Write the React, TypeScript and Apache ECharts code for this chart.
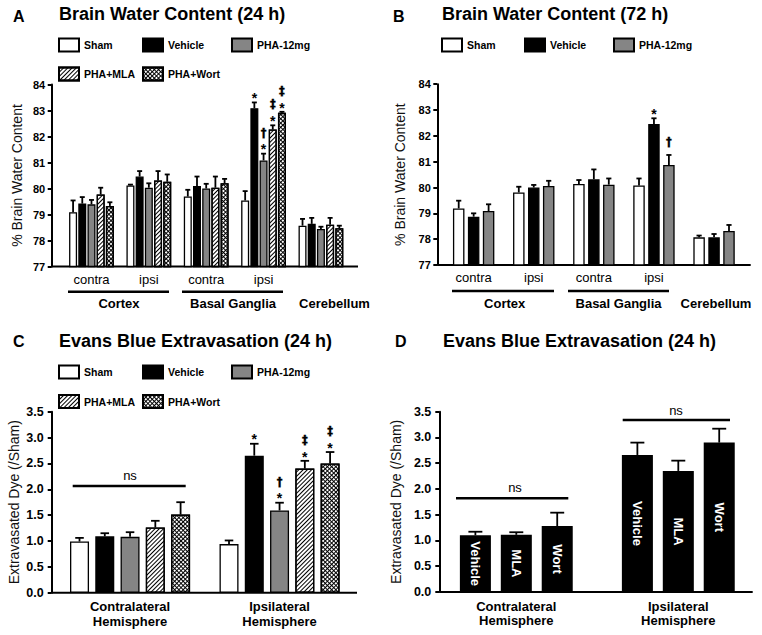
import React, { useEffect, useRef } from 'react';
import * as echarts from 'echarts';

const FONT = "'Liberation Sans', Arial, sans-serif";
const MARK_FONT = "'DejaVu Sans', 'Liberation Sans', sans-serif";

// ---------- Panel A: Brain Water Content (24 h) ----------
const aCategories = ['Cortex contra', 'Cortex ipsi', 'BG contra', 'BG ipsi', 'Cerebellum'];
const aTickLabels = ['contra', 'ipsi', 'contra', 'ipsi', ''];
const aSeriesNames = ['Sham', 'Vehicle', 'PHA-12mg', 'PHA+MLA', 'PHA+Wort'];
const aSham = [79.09, 80.12, 79.69, 79.54, 78.57];
const aShamErr = [79.54, 80.15, 79.95, 79.9, 78.83];
const aVehicle = [79.42, 80.46, 80.1, 83.09, 78.64];
const aVehicleErr = [79.67, 80.67, 80.46, 83.31, 78.87];
const aPHA = [79.39, 80.03, 80.0, 81.08, 78.44];
const aPHAErr = [79.56, 80.2, 80.18, 81.34, 78.53];
const aMLA = [79.77, 80.31, 80.03, 82.27, 78.61];
const aMLAErr = [80.03, 80.67, 80.46, 82.43, 78.87];
const aWort = [79.33, 80.26, 80.2, 82.91, 78.47];
const aWortErr = [79.47, 80.54, 80.37, 82.95, 78.57];
const aMarks = [
  ['', '', '', '', ''],
  ['', '', '', '*', ''],
  ['', '', '', '*†', ''],
  ['', '', '', '*‡', ''],
  ['', '', '', '*‡', ''],
];

// ---------- Panel B: Brain Water Content (72 h) ----------
const bSeriesNames = ['Sham', 'Vehicle', 'PHA-12mg'];
const bSham = [79.19, 79.81, 80.14, 80.08, 78.07];
const bShamErr = [79.49, 80.03, 80.29, 80.35, 78.14];
const bVehicle = [78.87, 80.0, 80.32, 82.46, 78.07];
const bVehicleErr = [79.0, 80.1, 80.7, 82.68, 78.2];
const bPHA = [79.09, 80.06, 80.11, 80.87, 78.32];
const bPHAErr = [79.35, 80.26, 80.35, 81.26, 78.55];
const bMarks = [
  ['', '', '', '', ''],
  ['', '', '', '*', ''],
  ['', '', '', '†', ''],
];

// ---------- Panel C: Evans Blue Extravasation (24 h) ----------
const cCategories = ['Contralateral\nHemisphere', 'Ipsilateral\nHemisphere'];
const cSham = [0.99, 0.94];
const cShamErr = [1.06, 1.01];
const cVehicle = [1.09, 2.65];
const cVehicleErr = [1.15, 2.88];
const cPHA = [1.08, 1.59];
const cPHAErr = [1.17, 1.74];
const cMLA = [1.26, 2.4];
const cMLAErr = [1.39, 2.55];
const cWort = [1.51, 2.5];
const cWortErr = [1.75, 2.72];
const cMarks = [
  ['', ''],
  ['', '*'],
  ['', '*†'],
  ['', '*‡'],
  ['', '*‡'],
];

// ---------- Panel D: Evans Blue Extravasation (24 h) ----------
const dSeriesNames = ['Vehicle', 'MLA', 'Wort'];
const dVehicle = [1.1, 2.66];
const dVehicleErr = [1.17, 2.9];
const dMLA = [1.11, 2.35];
const dMLAErr = [1.16, 2.55];
const dWort = [1.28, 2.9];
const dWortErr = [1.54, 3.17];
const dMarks = [
  ['', ''],
  ['', ''],
  ['', ''],
];

// ---------- styles ----------
const hatch = {
  symbol: 'rect',
  symbolSize: 1,
  color: '#000',
  backgroundColor: '#fff',
  dashArrayX: [1, 0],
  dashArrayY: [1, 2],
  rotation: -Math.PI / 4,
};
const cross = {
  symbol: 'rect',
  symbolSize: 1,
  color: '#000',
  backgroundColor: '#fff',
  dashArrayX: [[3, 0], [1, 2], [1, 2]],
  dashArrayY: [1, 0],
  rotation: Math.PI / 4,
};

function styleFor(name: string, panelD = false): any {
  const base = { borderColor: '#000', borderWidth: 1.3 };
  if (panelD) return { ...base, color: '#000' };
  switch (name) {
    case 'Sham':
      return { ...base, color: '#fff' };
    case 'Vehicle':
      return { ...base, color: '#000' };
    case 'PHA-12mg':
      return { ...base, color: '#858585' };
    case 'PHA+MLA':
      return { ...base, color: '#fff', decal: hatch };
    case 'PHA+Wort':
      return { ...base, color: '#fff', decal: cross };
  }
  return base;
}

type Rec = { cat: number; s: number; mean: number; err: number; marks: string };

function buildPanel(
  idx: number,
  names: string[],
  means: number[][],
  errs: number[][],
  marks: string[][],
  bw: number,
  gap: number,
  panelD = false
): any[] {
  const series: any[] = names.map((nm, s) => ({
    type: 'bar',
    name: nm,
    xAxisIndex: idx,
    yAxisIndex: idx,
    data: means[s],
    barWidth: bw,
    barGap: `${gap * 100}%`,
    itemStyle: styleFor(nm, panelD),
    silent: true,
    label: panelD
      ? {
          show: true,
          position: 'inside',
          rotate: -90,
          formatter: '{a}',
          color: '#fff',
          fontWeight: 'bold',
          fontSize: 13,
          fontFamily: FONT,
        }
      : { show: false },
  }));
  const recs: Rec[] = [];
  means.forEach((arr, s) =>
    arr.forEach((m, c) => recs.push({ cat: c, s, mean: m, err: errs[s][c], marks: marks[s][c] }))
  );
  const n = names.length;
  const step = bw * (1 + gap);
  const cap = Math.max(5, bw * 0.45);
  series.push({
    type: 'custom',
    xAxisIndex: idx,
    yAxisIndex: idx,
    silent: true,
    z: 5,
    data: recs.map((r) => [r.cat, r.err]),
    renderItem: (params: any, api: any) => {
      const r = recs[params.dataIndex];
      const base = api.coord([r.cat, r.mean]);
      const top = api.coord([r.cat, r.err]);
      const x = base[0] + (r.s - (n - 1) / 2) * step;
      const children: any[] = [
        { type: 'line', shape: { x1: x, y1: base[1], x2: x, y2: top[1] }, style: { stroke: '#000', lineWidth: 1.8 } },
        {
          type: 'line',
          shape: { x1: x - cap / 2, y1: top[1], x2: x + cap / 2, y2: top[1] },
          style: { stroke: '#000', lineWidth: 1.8 },
        },
      ];
      let center = top[1];
      const glyphs = Array.from(r.marks);
      glyphs.forEach((g, i) => {
        if (i === 0) center -= g === '*' ? 7.5 : 12;
        else center -= 12.5;
        const isStar = g === '*';
        const fs = isStar ? 14 : 11.5;
        children.push({
          type: 'text',
          x,
          y: isStar ? center + 0.23 * fs : center - 1,
          style: {
            text: g,
            fill: '#000',
            stroke: isStar ? undefined : '#000',
            lineWidth: isStar ? 0 : 0.3,
            font: `bold ${fs}px ${isStar ? FONT : MARK_FONT}`,
            align: 'center',
            verticalAlign: 'middle',
            textAlign: 'center',
            textVerticalAlign: 'middle',
          },
        });
      });
      return { type: 'group', children };
    },
  });
  return series;
}

function yAxisOf(gridIndex: number, min: number, max: number, interval: number, name: string, offset: number,
  nameGap: number, fontSize: number, margin: number, decimals: number): any {
  return {
    type: 'value',
    gridIndex,
    min,
    max,
    interval,
    offset,
    name,
    nameLocation: 'middle',
    nameGap,
    nameRotate: 90,
    nameTextStyle: { fontFamily: FONT, fontSize: 14, color: '#111' },
    axisLine: { show: true, lineStyle: { color: '#000', width: 2 } },
    axisTick: { show: true, length: 4, lineStyle: { color: '#000', width: 2 } },
    axisLabel: {
      color: '#000',
      fontWeight: 'bold',
      fontSize,
      fontFamily: FONT,
      margin,
      formatter: (v: number) => v.toFixed(decimals),
    },
    splitLine: { show: false },
  };
}

function xAxisOf(gridIndex: number, data: any[], fontSize: number, margin: number, weight: string, formatter?: any): any {
  return {
    type: 'category',
    gridIndex,
    data,
    axisLine: { show: false },
    axisTick: { show: false },
    axisLabel: {
      color: '#000',
      fontWeight: weight,
      fontSize,
      fontFamily: FONT,
      margin,
      lineHeight: 14.5,
      interval: 0,
      formatter,
    },
    splitLine: { show: false },
  };
}

function legendItem(name: string, left: number, top: number): any {
  return {
    data: [name],
    left,
    top,
    itemWidth: 20,
    itemHeight: 13,
    itemGap: 0,
    padding: 0,
    icon: 'rect',
    selectedMode: false,
    orient: 'horizontal',
    textStyle: { fontFamily: FONT, fontWeight: 'bold', fontSize: 10.5, color: '#000' },
  };
}

function txt(text: string, x: number, y: number, font: string, align = 'left'): any {
  return {
    type: 'text',
    x,
    y,
    silent: true,
    style: { text, font, fill: '#000', align, verticalAlign: 'middle', textAlign: align, textVerticalAlign: 'middle' },
  };
}
function hline(x1: number, x2: number, y: number, w = 2.5): any {
  return { type: 'line', silent: true, shape: { x1, y1: y, x2, y2: y }, style: { stroke: '#000', lineWidth: w } };
}

export default function App() {
  const ref = useRef<HTMLDivElement>(null);
  useEffect(() => {
    const chart = echarts.init(ref.current as HTMLDivElement, null, { renderer: 'svg' });
    const titleFont = `bold 18px ${FONT}`;
    const letterFont = `bold 16px ${FONT}`;
    const groupFont = `bold 13px ${FONT}`;
    const nsFont = `13px ${FONT}`;
    const option: any = {
      animation: false,
      backgroundColor: '#fff',
      grid: [
        { left: 62.8, top: 84.5, width: 286.8, height: 182 },
        { left: 443.6, top: 84.2, width: 300.5, height: 180.8 },
        { left: 55.3, top: 411.7, width: 299, height: 181 },
        { left: 435.3, top: 411.7, width: 324, height: 180.3 },
      ],
      xAxis: [
        xAxisOf(0, aCategories, 13, 5.5, 'normal', (_v: string, i: number) => aTickLabels[i]),
        xAxisOf(1, aCategories, 13, 5.5, 'normal', (_v: string, i: number) => aTickLabels[i]),
        xAxisOf(2, cCategories, 13, 7, 'bold'),
        xAxisOf(3, cCategories, 13, 7, 'bold'),
      ],
      yAxis: [
        yAxisOf(0, 77, 84, 1, '% Brain Water Content', 11.1, 28, 11, 6.5, 0),
        yAxisOf(1, 77, 84, 1, '% Brain Water Content', 6.3, 30, 11, 6.5, 0),
        yAxisOf(2, 0, 3.5, 0.5, 'Extravasated Dye (/Sham)', 3.6, 31, 12.5, 8, 1),
        yAxisOf(3, 0, 3.5, 0.5, 'Extravasated Dye (/Sham)', -4, 36, 12.5, 8, 1),
      ],
      legend: [
        legendItem('Sham', 58, 37.5),
        legendItem('Vehicle', 142, 37.5),
        legendItem('PHA-12mg', 231, 37.5),
        legendItem('PHA+MLA', 58, 66.5),
        legendItem('PHA+Wort', 142, 66.5),
        legendItem('Sham', 441, 37.5),
        legendItem('Vehicle', 524, 37.5),
        legendItem('PHA-12mg', 613, 37.5),
        legendItem('Sham', 58, 364.5),
        legendItem('Vehicle', 142, 364.5),
        legendItem('PHA-12mg', 231, 364.5),
        legendItem('PHA+MLA', 58, 394),
        legendItem('PHA+Wort', 142, 394),
      ],
      series: [
        ...buildPanel(0, aSeriesNames, [aSham, aVehicle, aPHA, aMLA, aWort],
          [aShamErr, aVehicleErr, aPHAErr, aMLAErr, aWortErr], aMarks, 8, 0.15),
        ...buildPanel(1, bSeriesNames, [bSham, bVehicle, bPHA], [bShamErr, bVehicleErr, bPHAErr], bMarks, 11.5, 0.3),
        ...buildPanel(2, aSeriesNames, [cSham, cVehicle, cPHA, cMLA, cWort],
          [cShamErr, cVehicleErr, cPHAErr, cMLAErr, cWortErr], cMarks, 19, 0.33),
        ...buildPanel(3, dSeriesNames, [dVehicle, dMLA, dWort], [dVehicleErr, dMLAErr, dWortErr], dMarks, 31, 0.32, true),
      ],
      graphic: [
        // panel letters and titles
        txt('A', 13, 16.7, letterFont),
        txt('Brain Water Content (24 h)', 59, 13.5, titleFont),
        txt('B', 393, 16.7, letterFont),
        txt('Brain Water Content (72 h)', 442, 13.5, titleFont),
        txt('C', 13, 341, letterFont),
        txt('Evans Blue Extravasation (24 h)', 59, 341, titleFont),
        txt('D', 395, 341, letterFont),
        txt('Evans Blue Extravasation (24 h)', 443, 341, titleFont),
        // x axis lines
        hline(51.7, 358, 266.5, 2),
        hline(437.3, 750.7, 265, 2),
        hline(51.7, 357, 592.7, 2),
        hline(439.3, 752.7, 592, 2),
        // region brackets A
        hline(68, 169, 291.7),
        hline(182, 283, 291.7),
        txt('Cortex', 119, 303, groupFont, 'center'),
        txt('Basal Ganglia', 233, 303, groupFont, 'center'),
        txt('Cerebellum', 334.5, 303, groupFont, 'center'),
        // region brackets B
        hline(452, 554, 291),
        hline(568, 669, 291),
        txt('Cortex', 504.7, 303, groupFont, 'center'),
        txt('Basal Ganglia', 618.5, 303, groupFont, 'center'),
        txt('Cerebellum', 716, 303, groupFont, 'center'),
        // ns annotations
        hline(72.7, 185.7, 486),
        txt('ns', 130, 475, nsFont, 'center'),
        hline(456, 568.3, 498.3),
        txt('ns', 515, 487.7, nsFont, 'center'),
        hline(622.7, 730, 420),
        txt('ns', 676, 410, nsFont, 'center'),
      ],
    };
    chart.setOption(option);
    return () => chart.dispose();
  }, []);
  return (
    <div
      ref={ref}
      style={{ position: 'fixed', left: 0, top: 0, width: 762, height: 635, background: '#fff' }}
    />
  );
}
